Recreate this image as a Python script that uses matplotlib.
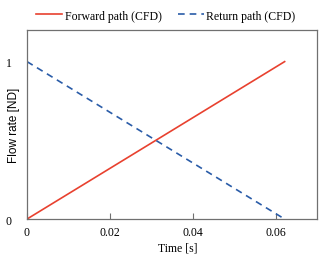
import matplotlib
matplotlib.use("Agg")
import matplotlib.pyplot as plt

# data
time_fwd = [0.0, 0.0622]
flow_fwd = [0.0, 1.0]
time_ret = [0.0, 0.0622]
flow_ret = [1.0, 0.0]
xticks = [0, 0.02, 0.04, 0.06]
xticklabels = ["0", "0.02", "0.04", "0.06"]
yticks = [0, 1]

serif = "Liberation Serif"
sans = "Liberation Sans"

fig = plt.figure(figsize=(3.19, 2.55), dpi=100)
ax = fig.add_axes([0.0846, 0.137, 0.909, 0.741])

ax.plot(time_fwd, flow_fwd, color="#e8412f", lw=1.2, label="Forward path (CFD)")
ax.plot(time_ret, flow_ret, color="#2a5ca8", lw=1.2, ls=(0, (4, 3)), label="Return path (CFD)")

ax.set_xlim(0, 0.07)
ax.set_ylim(0, 1.2)
ax.set_xticks(xticks)
ax.set_xticklabels(xticklabels, fontfamily=serif, fontsize=8.5)
ax.set_yticks(yticks)
ax.set_yticklabels([str(v) for v in yticks], fontfamily=serif, fontsize=8.5)
ax.tick_params(axis="x", direction="in", length=4, color="#707070", pad=5)
ax.tick_params(axis="y", length=0, pad=11)
for s in ax.spines.values():
    s.set_color("#707070")
    s.set_linewidth(0.9)

ax.set_xlabel("Time [s]", fontfamily=serif, fontsize=8.5)
ax.xaxis.set_label_coords(0.52, -0.12)
ax.set_ylabel("Flow rate [ND]", fontfamily=sans, fontsize=8.5)
ax.yaxis.set_label_coords(-0.024, 0.5)

fig.legend(loc="upper center", bbox_to_anchor=(0.52, 1.0), ncol=2, frameon=False,
           prop={"family": serif, "size": 8.5}, handlelength=2.2, handletextpad=0.2,
           columnspacing=1.4)

fig.savefig("out.png", dpi=100)
